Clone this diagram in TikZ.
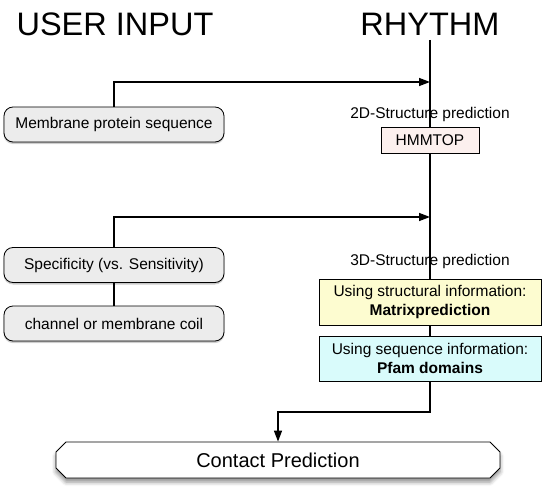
\documentclass[tikz,border=0pt]{standalone}
\usepackage{fontspec}
\setmainfont{Liberation Sans}
\usetikzlibrary{arrows.meta,shapes.misc,shadows.blur}
\definecolor{inputgray}{RGB}{236,236,236}
\definecolor{hmmpink}{RGB}{252,240,238}
\definecolor{structyellow}{RGB}{253,252,208}
\definecolor{seqcyan}{RGB}{217,251,251}

\begin{document}
\begin{tikzpicture}[x=1pt, y=-1pt,
  heading/.style={anchor=base, font=\fontsize{32.5}{38}\selectfont},
  inbox/.style={draw, line width=0.8pt, rounded corners=9pt, fill=inputgray,
    minimum width=220pt, minimum height=35pt, font=\fontsize{15.5}{18}\selectfont,
    blur shadow={shadow xshift=0pt, shadow yshift=-1.5pt, shadow opacity=30, shadow blur radius=1pt}},
  stagelabel/.style={anchor=base, font=\fontsize{15.5}{18}\selectfont},
  toolbox/.style={draw, line width=0.6pt, minimum width=222pt, minimum height=45pt,
    align=center, font=\fontsize{15.5}{19}\selectfont},
  link/.style={line width=1.4pt},
  feed/.style={line width=1.4pt, -{Triangle[length=11pt,width=8pt]}}]
\useasboundingbox (0,0) rectangle (543,492);

% column headings
\node[heading] (userinput) at (115,36) {USER INPUT};
\node[heading] (rhythm) at (430,36) {RHYTHM};
\coordinate (flowtop) at (430,40);

% user input side
\node[inbox] (member) at (114,124.5) {Membrane protein sequence};
\node[inbox] (spec) at (114,265) {Specificity (vs. Sensitivity)};
\node[inbox] (chan) at (114,323.5) {channel or membrane coil};

% RHYTHM side
\node[draw, line width=0.6pt, fill=hmmpink, minimum width=98pt, minimum height=26pt,
  font=\fontsize{15.5}{18}\selectfont] (hmmtop) at (430,140) {HMMTOP};
\node[toolbox, fill=structyellow, minimum height=46pt] (struct) at (430,302)
  {Using structural information:\\ \textbf{Matrixprediction}};
\node[toolbox, fill=seqcyan] (seq) at (430,358.5)
  {Using sequence information:\\ \textbf{Pfam domains}};

\node[draw, line width=0.8pt, fill=white, chamfered rectangle,
  chamfered rectangle xsep=5pt, chamfered rectangle ysep=5pt,
  minimum width=444pt, minimum height=36pt, inner sep=0pt,
  font=\fontsize{20}{24}\selectfont,
  blur shadow={shadow xshift=0pt, shadow yshift=-4pt, shadow opacity=45, shadow blur radius=4pt}]
  (contact) at (278,460) {Contact Prediction};

% connectors
\coordinate (in2d) at (430,82);
\coordinate (in3d) at (430,217);
\coordinate (turn) at (430,412);
\draw[link] (flowtop) -- (hmmtop);
\draw[link] (hmmtop) -- (struct);
\draw[link] (struct) -- (seq);
\draw[feed] (member.north) |- (in2d);
\draw[feed] (spec.north) |- (in3d);
\draw[link] (spec) -- (chan);
\draw[feed] (seq.south) -- (turn) -| (contact.north);

\node[stagelabel] (label2d) at (430,119) {2D-Structure prediction};
\node[stagelabel] (label3d) at (430,265) {3D-Structure prediction};
\end{tikzpicture}
\end{document}
